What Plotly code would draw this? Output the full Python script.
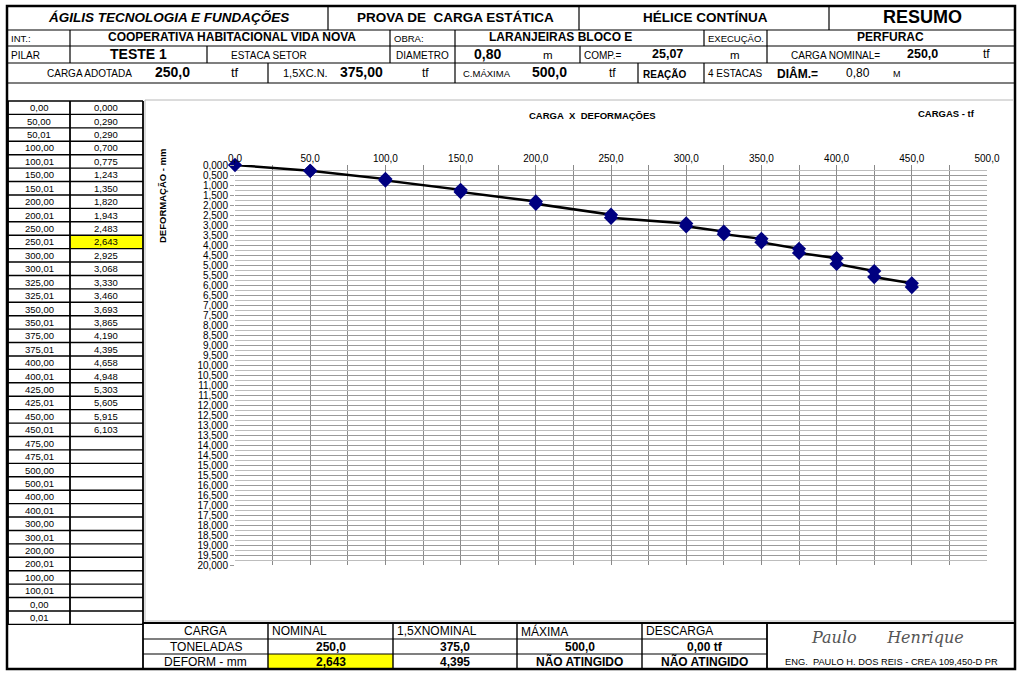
import plotly.graph_objects as go

W, H = 1023, 677

# ---------------- data ----------------
cargas = [0, 50, 50.01, 100, 100.01, 150, 150.01, 200, 200.01, 250, 250.01,
          300, 300.01, 325, 325.01, 350, 350.01, 375, 375.01, 400, 400.01,
          425, 425.01, 450, 450.01]
deform = [0.000, 0.290, 0.290, 0.700, 0.775, 1.243, 1.350, 1.820, 1.943,
          2.483, 2.643, 2.925, 3.068, 3.330, 3.460, 3.693, 3.865, 4.190,
          4.395, 4.658, 4.948, 5.303, 5.605, 5.915, 6.103]
extra_cargas = [475, 475.01, 500, 500.01, 400, 400.01, 300, 300.01,
                200, 200.01, 100, 100.01, 0, 0.01]

resumo_header = ["CARGA", "NOMINAL", "1,5XNOMINAL", "MÁXIMA", "DESCARGA"]
resumo_ton = ["TONELADAS", "250,0", "375,0", "500,0", "0,00 tf"]
resumo_def = ["DEFORM - mm", "2,643", "4,395", "NÃO ATINGIDO", "NÃO ATINGIDO"]

x_ticks = [0, 50, 100, 150, 200, 250, 300, 350, 400, 450, 500]


def X(px):
    return px / W


def Y(py):
    return 1 - py / H


def br(v, d):
    return f"{v:.{d}f}".replace(".", ",")


FONT = "Liberation Sans, Arial, sans-serif"
shapes = []
ann = []


def line(x0, y0, x1, y1, w=1.2, c="black"):
    shapes.append(dict(type="line", xref="paper", yref="paper",
                       x0=X(x0), y0=Y(y0), x1=X(x1), y1=Y(y1),
                       line=dict(color=c, width=w)))


def rect(x0, y0, x1, y1, fill, w=0, c="black"):
    shapes.append(dict(type="rect", xref="paper", yref="paper", layer="below",
                       x0=X(x0), y0=Y(y0), x1=X(x1), y1=Y(y1),
                       fillcolor=fill, line=dict(color=c, width=w)))


def txt(x, y, s, size=10, bold=False, italic=False, anchor="center", color="black", angle=0, family=FONT):
    t = s.replace("  ", "\u00a0\u00a0")
    if bold:
        t = "<b>" + t + "</b>"
    if italic:
        t = "<i>" + t + "</i>"
    ann.append(dict(x=X(x), y=Y(y), xref="paper", yref="paper", text=t,
                    showarrow=False, xanchor=anchor, yanchor="middle",
                    textangle=angle,
                    font=dict(family=family, size=size, color=color)))


# ---------------- yellow cells ----------------
ROW0, RH = 101, 13.42
rect(70, ROW0 + RH * 10, 143, ROW0 + RH * 11, "#FFFF00")
rect(268, 654, 393, 669, "#FFFF00")

# ---------------- header grid ----------------
for yy in [30, 46, 63, 83]:
    line(7, yy, 1015, yy)
for xx in [328, 579, 829]:
    line(xx, 6, xx, 30)
for xx in [70, 390, 455, 704, 767]:
    line(xx, 30, xx, 46)
for xx in [70, 207, 390, 455, 580, 767]:
    line(xx, 46, xx, 63)
for xx in [268, 455, 638, 704]:
    line(xx, 63, xx, 83)

# header texts
txt(168, 18, "ÁGILIS TECNOLOGIA E FUNDAÇÕES", 13.5, bold=True, italic=True)
txt(455, 18, "PROVA DE  CARGA ESTÁTICA", 13.5, bold=True)
txt(705, 18, "HÉLICE CONTÍNUA", 13.5, bold=True)
txt(922, 17, "RESUMO", 18, bold=True)

txt(9, 38, "INT.:", 9.5, anchor="left")
txt(232, 37, "COOPERATIVA HABITACIONAL VIDA NOVA", 12, bold=True)
txt(392, 38, "OBRA:", 9.5, anchor="left")
txt(560, 37, "LARANJEIRAS BLOCO E", 12, bold=True)
txt(706, 38, "EXECUÇÃO.", 9.5, anchor="left")
txt(890, 37, "PERFURAC", 12, bold=True)

txt(9, 55, "PILAR", 10, anchor="left")
txt(138, 54, "TESTE 1", 14, bold=True)
txt(269, 55, "ESTACA SETOR", 10)
txt(422, 55, "DIAMETRO", 10)
txt(487, 54, "0,80", 14, bold=True)
txt(548, 55, "m", 11.5)
txt(582, 55, "COMP.=", 10, anchor="left")
txt(667, 54, "25,07", 12.5, bold=True)
txt(735, 55, "m", 11.5)
txt(835, 55, "CARGA NOMINAL=", 10)
txt(922, 54, "250,0", 12.5, bold=True)
txt(986, 54, "tf", 12)

txt(89, 73, "CARGA ADOTADA", 10)
txt(172, 72, "250,0", 14, bold=True)
txt(235, 72, "tf", 13)
txt(305, 73, "1,5XC.N.", 11)
txt(361, 72, "375,00", 14, bold=True)
txt(425, 73, "tf", 12)
txt(487, 74, "C.MÁXIMA", 9.5)
txt(549, 72, "500,0", 14, bold=True)
txt(612, 73, "tf", 12)
txt(665, 74, "REAÇÃO", 10, bold=True)
txt(735, 74, "4 ESTACAS", 10)
txt(797, 73, "DIÂM.=", 12, bold=True)
txt(858, 73, "0,80", 12)
txt(897, 74, "M", 9)

# ---------------- left table ----------------
col1 = [br(v, 2) for v in cargas] + [br(v, 2) for v in extra_cargas]
col2 = [br(v, 3) for v in deform] + [""] * len(extra_cargas)
nrows = len(col1)
for k in range(nrows + 1):
    line(8, ROW0 + RH * k, 143, ROW0 + RH * k, w=1.4)
for xx in [8, 70, 143]:
    line(xx, ROW0, xx, ROW0 + RH * nrows, w=1.8)
for i in range(nrows):
    yc = ROW0 + RH * (i + 0.5)
    txt(39, yc, col1[i], 9.5)
    txt(106, yc, col2[i], 9.5)

# chart object border (light gray)
line(145, 100, 1013, 100, w=1, c="#b8b8b8")
line(145, 100, 145, 622, w=1, c="#b8b8b8")
line(145, 621, 1013, 621, w=1, c="#b8b8b8")

# ---------------- bottom table ----------------
line(143, 623, 1015, 623, w=1.8)
line(143, 639, 767, 639)
line(143, 654, 767, 654)
line(8, 669, 1015, 669, w=1.8)
cols = [143, 268, 393, 517, 642, 767]
for xx in cols:
    line(xx, 623, xx, 669, w=1.4 if xx not in (143, 767) else 1.8)
for j in range(5):
    cx = (cols[j] + cols[j + 1]) / 2
    if j == 0:
        txt(cx, 631, resumo_header[j], 12)
        txt(cx, 646.5, resumo_ton[j], 12)
        txt(cx, 661.5, resumo_def[j], 12)
    else:
        txt(cols[j] + 2, 631, resumo_header[j], 12, anchor="left")
        txt(cx, 646.5, resumo_ton[j], 12, bold=True)
        txt(cx, 661.5, resumo_def[j], 12, bold=True)

txt(887, 637, "Paulo      Henrique", 16, italic=True, color="#555555",
    family="DejaVu Serif, serif")
txt(891, 662, "ENG.  PAULO H. DOS REIS - CREA 109,450-D PR", 9.3)

# outer frame
shapes.append(dict(type="rect", xref="paper", yref="paper",
                   x0=X(7), y0=Y(6), x1=X(1015), y1=Y(669),
                   line=dict(color="black", width=2.5)))

# chart labels
txt(592, 115, "CARGA  X  DEFORMAÇÕES", 9.5, bold=True)
txt(946, 113, "CARGAS - tf", 9.5, bold=True)
txt(162, 196, "DEFORMAÇÃO - mm", 9.5, bold=True, angle=-90)

# ---------------- chart ----------------
fig = go.Figure()
fig.add_trace(go.Scatter(
    x=cargas, y=deform, mode="lines+markers",
    line=dict(color="black", width=2.5),
    marker=dict(symbol="diamond", size=11, color="#000080",
                line=dict(color="#000080", width=0)),
    showlegend=False, cliponaxis=False))

fig.update_layout(
    width=W, height=H, margin=dict(l=0, r=0, t=0, b=0, pad=0, autoexpand=False),
    paper_bgcolor="white", plot_bgcolor="white",
    separators=",.",
    shapes=shapes, annotations=ann,
    xaxis=dict(domain=[X(235), X(987)], range=[0, 500], side="top",
               automargin=False,
               tickvals=x_ticks, tickformat=".1f",
               showgrid=True, gridcolor="#8a8a8a", gridwidth=1,
               minor=dict(dtick=25, showgrid=True, gridcolor="#8a8a8a", gridwidth=1),
               zeroline=False, showline=False, ticks="",
               tickfont=dict(family=FONT, size=10, color="black")),
    yaxis=dict(domain=[Y(565), Y(165)], range=[20, 0],
               automargin=False,
               dtick=0.5, tick0=0, tickformat=".3f",
               showgrid=True, gridcolor="#9a9a9a", gridwidth=1,
               minor=dict(dtick=0.25, showgrid=True, gridcolor="#bdbdbd", gridwidth=1),
               zeroline=False, showline=False, ticks="outside", ticklen=4,
               tickcolor="#9a9a9a",
               tickfont=dict(family=FONT, size=10, color="black")),
)

fig.write_html("out.html")
